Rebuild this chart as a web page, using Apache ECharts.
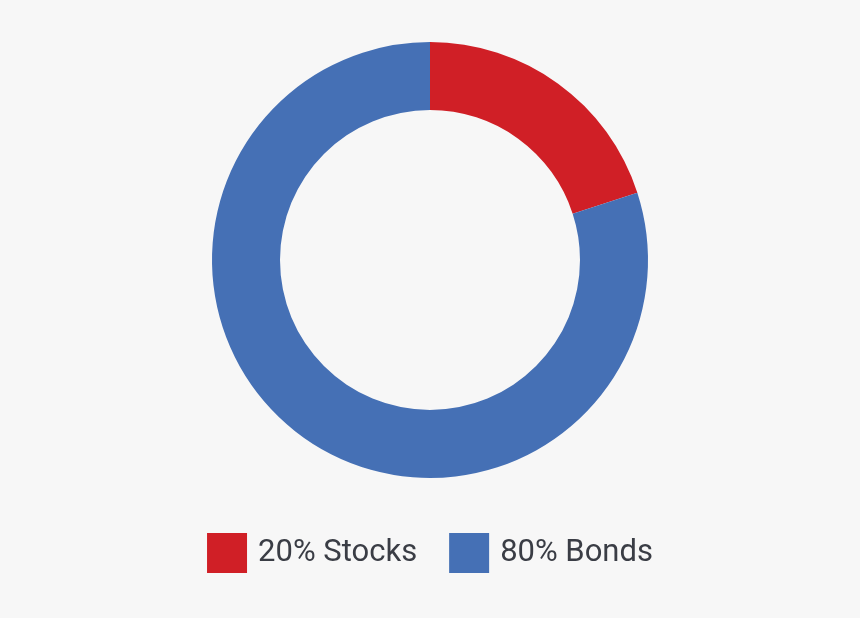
<!DOCTYPE html>
<html><head><meta charset="utf-8">
<script src="https://cdn.jsdelivr.net/npm/echarts@6/dist/echarts.min.js"></script>
<style>html,body{margin:0;padding:0;background:#f7f7f7}#c{width:860px;height:618px}</style>
</head><body><div id="c"></div>
<script>
const categories = ['20% Stocks', '80% Bonds'];
const values = [20, 80];
const colors = ['#d01f26', '#4570b5'];
const chart = echarts.init(document.getElementById('c'));
chart.setOption({
  backgroundColor: '#f7f7f7',
  animation: false,
  color: colors,
  legend: {
    bottom: 40, left: 'center',
    itemWidth: 40, itemHeight: 40, itemGap: 32,
    icon: 'rect',
    textStyle: { fontSize: 31, color: '#3a3d45', fontFamily: 'Roboto', padding: [0, 0, 0, 6] },
    data: categories
  },
  series: [{
    type: 'pie',
    center: [430, 260],
    radius: [150, 218],
    startAngle: 90,
    clockwise: true,
    label: { show: false },
    labelLine: { show: false },
    emphasis: { disabled: true },
    data: categories.map((n, i) => ({ name: n, value: values[i] }))
  }]
});
</script></body></html>
